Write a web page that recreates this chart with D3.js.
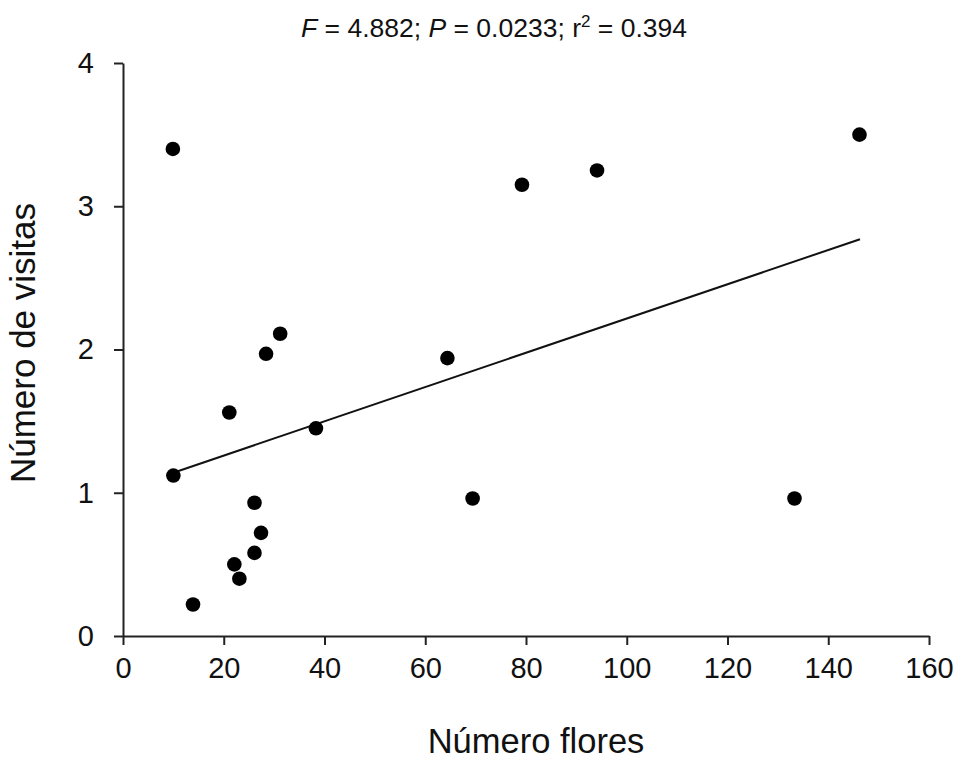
<!DOCTYPE html>
<style type="text/css">
  body { margin: 0; background: #fff; }
  text { font-family: "Liberation Sans", Arial, sans-serif; fill: #111; }
  .axis path, .axis line { stroke: #222; stroke-width: 2; }
  .axis text { font-size: 29px; }
  .dot { fill: #000; }
  .fit { stroke: #111; stroke-width: 2; fill: none; }
</style>
<svg width="961" height="770"></svg>
<script src="https://d3js.org/d3.v7.min.js"></script>
<script>

// flower count vs visits
var flores  = [9.9, 146.2, 79.2, 94.1, 31.2, 28.4, 21.1, 38.3, 64.4, 10.0, 26.1, 27.4, 26.1, 22.1, 23.1, 13.9, 69.4, 133.3];
var visitas = [3.40, 3.50, 3.15, 3.25, 2.11, 1.97, 1.56, 1.45, 1.94, 1.12, 0.93, 0.72, 0.58, 0.50, 0.40, 0.22, 0.96, 0.96];

// regression line ends
var fitX = [10, 146.3];
var fitY = [1.14, 2.77];

var xTicks = [0, 20, 40, 60, 80, 100, 120, 140, 160];
var yTicks = [0, 1, 2, 3, 4];

var svg = d3.select("svg");

var x = d3.scaleLinear().domain([0, 160]).range([123, 929]);
var y = d3.scaleLinear().domain([0, 4]).range([636, 63]);

var data = flores.map(function(f, i) { return {x: f, y: visitas[i]}; });
var fit = fitX.map(function(f, i) { return {x: f, y: fitY[i]}; });

svg.append("g")
    .attr("class", "axis")
    .attr("transform", "translate(0," + y(0) + ")")
    .call(d3.axisBottom(x).tickValues(xTicks).tickFormat(d3.format("d"))
      .tickSize(9).tickSizeOuter(0).tickPadding(12))
    .call(function(g) { g.selectAll("text").attr("dy", "0.71em"); });

svg.append("g")
    .attr("class", "axis")
    .attr("transform", "translate(" + x(0) + ",0)")
    .call(d3.axisLeft(y).tickValues(yTicks).tickFormat(d3.format("d"))
      .tickSize(9).tickSizeOuter(0).tickPadding(20));

svg.selectAll(".axis .domain").attr("stroke", "#222");
svg.selectAll(".axis text").attr("fill", "#111");

var line = d3.line()
    .x(function(d) { return x(d.x); })
    .y(function(d) { return y(d.y); });

svg.append("path")
    .datum(fit)
    .attr("class", "fit")
    .attr("d", line);

svg.selectAll(".dot")
    .data(data)
  .enter().append("circle")
    .attr("class", "dot")
    .attr("cx", function(d) { return x(d.x); })
    .attr("cy", function(d) { return y(d.y); })
    .attr("r", 7.3);

// title with stats
var title = svg.append("text")
    .attr("x", 494)
    .attr("y", 37)
    .attr("text-anchor", "middle")
    .style("font-size", "26.5px");
title.append("tspan").style("font-style", "italic").text("F");
title.append("tspan").text(" = 4.882; ");
title.append("tspan").style("font-style", "italic").text("P");
title.append("tspan").text(" = 0.0233; r");
title.append("tspan").attr("dy", -10).style("font-size", "17px").text("2");
title.append("tspan").attr("dy", 10).text(" = 0.394");

svg.append("text")
    .attr("x", 536)
    .attr("y", 753)
    .attr("text-anchor", "middle")
    .style("font-size", "34.5px")
    .text("Número flores");

svg.append("text")
    .attr("transform", "translate(35,343) rotate(-90)")
    .attr("text-anchor", "middle")
    .style("font-size", "35px")
    .text("Número de visitas");

</script>
